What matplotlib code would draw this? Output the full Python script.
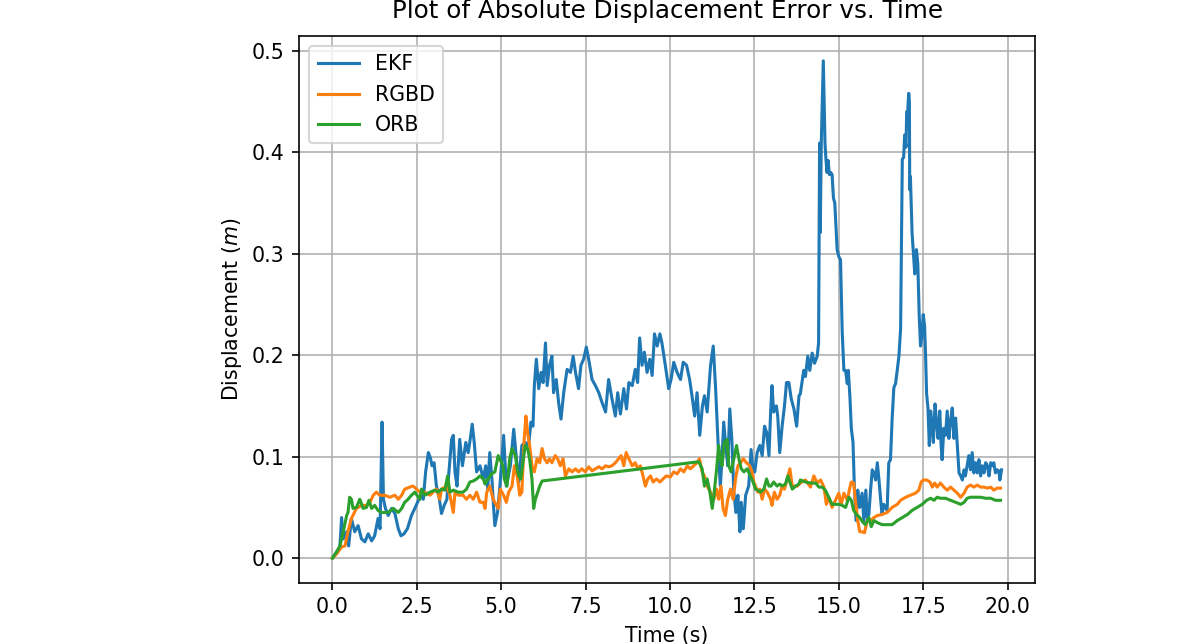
import matplotlib
matplotlib.use("Agg")
import matplotlib.pyplot as plt

# ---- data ----
ekf_t = [0, 0.12, 0.22, 0.27, 0.32, 0.42, 0.48, 0.56, 0.66, 0.76, 0.86, 0.96, 1.06, 1.16, 1.25, 1.35, 1.41, 1.47, 1.51, 1.57,
         1.65, 1.75, 1.85, 1.95, 2.03, 2.12, 2.22, 2.34, 2.44, 2.52, 2.62, 2.69, 2.76, 2.84, 2.90, 2.95, 3.01, 3.08, 3.15, 3.23,
         3.31, 3.39, 3.45, 3.53, 3.58, 3.63, 3.69, 3.77, 3.85, 3.95, 4.02, 4.08, 4.14, 4.20, 4.27, 4.37, 4.47, 4.54, 4.60, 4.66,
         4.73, 4.77, 4.81, 4.89, 4.96, 5.07, 5.15, 5.27, 5.37, 5.45, 5.52, 5.61, 5.71, 5.81, 5.88, 5.94, 5.98, 6.04, 6.11, 6.18,
         6.24, 6.31, 6.36, 6.43, 6.50, 6.55, 6.63, 6.70, 6.77, 6.85, 6.95, 7.05, 7.13, 7.20, 7.29, 7.36, 7.44, 7.52, 7.59, 7.69,
         7.79, 7.89, 7.99, 8.09, 8.18, 8.28, 8.38, 8.45, 8.53, 8.63, 8.71, 8.78, 8.88, 8.97, 9.04, 9.10, 9.17, 9.24, 9.32, 9.40,
         9.47, 9.54, 9.62, 9.70, 9.76, 9.86, 9.96, 10.03, 10.11, 10.21, 10.31, 10.39, 10.49, 10.58, 10.65, 10.73, 10.80, 10.88,
         10.96, 11.02, 11.10, 11.20, 11.28, 11.35, 11.40, 11.44, 11.49, 11.54, 11.59, 11.65, 11.71, 11.77, 11.83, 11.89, 11.95,
         12.01, 12.07, 12.11, 12.17, 12.24, 12.33, 12.40, 12.46, 12.51, 12.58, 12.66, 12.73, 12.80, 12.86, 12.93, 12.98, 13.02,
         13.07, 13.15, 13.19, 13.25, 13.32, 13.39, 13.45, 13.52, 13.59, 13.67, 13.75, 13.82, 13.86, 13.96, 14.01, 14.08, 14.14,
         14.21, 14.28, 14.36, 14.40, 14.43, 14.45, 14.48, 14.54, 14.59, 14.62, 14.65, 14.68, 14.72, 14.76, 14.80, 14.84, 14.88,
         14.91, 14.95, 15.00, 15.05, 15.10, 15.15, 15.20, 15.25, 15.28, 15.33, 15.37, 15.42, 15.46, 15.51, 15.56, 15.62, 15.69,
         15.74, 15.80, 15.84, 15.89, 15.94, 15.99, 16.04, 16.09, 16.14, 16.19, 16.24, 16.28, 16.33, 16.38, 16.43, 16.48, 16.53,
         16.58, 16.63, 16.68, 16.73, 16.78, 16.83, 16.88, 16.92, 16.95, 16.99, 17.01, 17.04, 17.07, 17.09, 17.10, 17.12, 17.17,
         17.21, 17.25, 17.27, 17.30, 17.34, 17.38, 17.42, 17.46, 17.50, 17.54, 17.57, 17.60, 17.64, 17.68, 17.72, 17.76, 17.80,
         17.85, 17.90, 17.94, 17.99, 18.03, 18.06, 18.11, 18.16, 18.21, 18.26, 18.31, 18.36, 18.41, 18.46, 18.51, 18.56, 18.61,
         18.66, 18.71, 18.75, 18.80, 18.85, 18.90, 18.95, 19.00, 19.05, 19.10, 19.15, 19.20, 19.25, 19.30, 19.35, 19.40, 19.45,
         19.50, 19.55, 19.59, 19.64, 19.69, 19.74, 19.77, 19.82]
ekf_v = [0, 0.006, 0.011, 0.040, 0.019, 0.026, 0.012, 0.039, 0.026, 0.032, 0.019, 0.016, 0.024, 0.017, 0.022, 0.039, 0.029, 0.134, 0.058, 0.049,
         0.042, 0.049, 0.044, 0.029, 0.022, 0.024, 0.029, 0.042, 0.049, 0.055, 0.062, 0.058, 0.085, 0.104, 0.099, 0.091, 0.094, 0.071, 0.062, 0.044,
         0.052, 0.058, 0.085, 0.117, 0.121, 0.085, 0.071, 0.117, 0.091, 0.114, 0.104, 0.117, 0.132, 0.114, 0.085, 0.091, 0.078, 0.091, 0.068, 0.104,
         0.075, 0.052, 0.032, 0.045, 0.071, 0.121, 0.071, 0.091, 0.127, 0.098, 0.075, 0.111, 0.114, 0.111, 0.134, 0.130, 0.170, 0.196, 0.167, 0.183,
         0.173, 0.212, 0.170, 0.190, 0.199, 0.163, 0.176, 0.153, 0.137, 0.163, 0.186, 0.183, 0.199, 0.183, 0.167, 0.190, 0.196, 0.208, 0.196, 0.176,
         0.170, 0.163, 0.153, 0.144, 0.176, 0.157, 0.140, 0.163, 0.142, 0.167, 0.147, 0.173, 0.170, 0.186, 0.173, 0.217, 0.190, 0.203, 0.183, 0.196,
         0.180, 0.221, 0.209, 0.221, 0.212, 0.190, 0.167, 0.176, 0.193, 0.183, 0.176, 0.193, 0.190, 0.176, 0.160, 0.140, 0.163, 0.121,
         0.150, 0.160, 0.144, 0.190, 0.209, 0.167, 0.130, 0.101, 0.071, 0.098, 0.134, 0.111, 0.091, 0.147, 0.117, 0.065, 0.045,
         0.062, 0.026, 0.055, 0.029, 0.062, 0.071, 0.107, 0.085, 0.085, 0.104, 0.111, 0.101, 0.130, 0.124, 0.101, 0.144, 0.170,
         0.144, 0.150, 0.140, 0.104, 0.130, 0.150, 0.173, 0.173, 0.157, 0.147, 0.130, 0.160, 0.162, 0.185, 0.179, 0.199, 0.185,
         0.202, 0.192, 0.199, 0.212, 0.409, 0.321, 0.409, 0.490, 0.409, 0.392, 0.380, 0.392, 0.378, 0.380, 0.378, 0.355, 0.350,
         0.330, 0.304, 0.297, 0.294, 0.223, 0.185, 0.185, 0.172, 0.185, 0.158, 0.128, 0.114, 0.070, 0.037, 0.067, 0.050, 0.064,
         0.037, 0.067, 0.040, 0.043, 0.067, 0.087, 0.084, 0.077, 0.094, 0.077, 0.057, 0.043, 0.053, 0.050, 0.047, 0.094, 0.097,
         0.138, 0.168, 0.172, 0.185, 0.199, 0.226, 0.393, 0.395, 0.417, 0.405, 0.440, 0.440, 0.458, 0.450, 0.363, 0.376, 0.320,
         0.300, 0.280, 0.300, 0.304, 0.290, 0.240, 0.209, 0.219, 0.240, 0.229, 0.199, 0.162, 0.148, 0.111, 0.145, 0.131, 0.114,
         0.152, 0.131, 0.118, 0.145, 0.111, 0.097, 0.128, 0.121, 0.145, 0.118, 0.135, 0.148, 0.118, 0.138, 0.111, 0.084, 0.081,
         0.077, 0.087, 0.081, 0.091, 0.101, 0.087, 0.104, 0.084, 0.094, 0.084, 0.097, 0.081, 0.091, 0.084, 0.094, 0.091, 0.081,
         0.094, 0.091, 0.094, 0.084, 0.087, 0.086, 0.077, 0.087]

rgbd_t = [0, 0.12, 0.27, 0.37, 0.46, 0.56, 0.71, 0.86, 1.01, 1.11, 1.21, 1.30, 1.40, 1.55, 1.70, 1.85, 1.95, 2.05, 2.14, 2.29,
          2.39, 2.49, 2.59, 2.74, 2.89, 2.98, 3.08, 3.18, 3.23, 3.38, 3.48, 3.58, 3.63, 3.73, 3.87, 3.97, 4.07, 4.17, 4.27, 4.37,
          4.47, 4.52, 4.57, 4.66, 4.76, 4.86, 4.91, 4.97, 5.07, 5.15, 5.22, 5.32, 5.39, 5.47, 5.55, 5.61, 5.68, 5.73, 5.78, 5.84,
          5.91, 5.98, 6.06, 6.14, 6.21, 6.28, 6.36, 6.43, 6.50, 6.60, 6.67, 6.75, 6.83, 6.90, 7.00, 7.10, 7.20, 7.29, 7.39, 7.49,
          7.59, 7.69, 7.79, 7.89, 7.99, 8.09, 8.18, 8.28, 8.38, 8.48, 8.55, 8.63, 8.70, 8.78, 8.88, 8.97, 9.04, 9.12, 9.20, 9.27,
          9.34, 9.42, 9.50, 9.60, 9.70, 9.79, 9.89, 10.01, 10.11, 10.21, 10.31, 10.41, 10.51, 10.60, 10.70, 10.80, 10.87, 10.95,
          11.02, 11.10, 11.20, 11.30, 11.38, 11.44, 11.51, 11.57, 11.64, 11.71, 11.79, 11.87, 11.94, 12.01, 12.09, 12.17, 12.26,
          12.36, 12.43, 12.48, 12.53, 12.60, 12.66, 12.73, 12.80, 12.88, 12.98, 13.02, 13.09, 13.17, 13.25, 13.32, 13.39, 13.47,
          13.55, 13.62, 13.69, 13.77, 13.86, 14.01, 14.16, 14.26, 14.36, 14.46, 14.56, 14.63, 14.70, 14.80, 14.90, 15.00, 15.07,
          15.15, 15.25, 15.33, 15.37, 15.44, 15.49, 15.56, 15.62, 15.69, 15.76, 15.84, 15.94, 16.04, 16.14, 16.28, 16.43, 16.58,
          16.73, 16.83, 16.98, 17.12, 17.27, 17.37, 17.44, 17.50, 17.60, 17.70, 17.77, 17.84, 17.91, 18.01, 18.11, 18.21, 18.31,
          18.41, 18.51, 18.61, 18.71, 18.80, 18.90, 19.00, 19.10, 19.20, 19.30, 19.40, 19.50, 19.59, 19.69, 19.79]
rgbd_v = [0, 0.004, 0.011, 0.012, 0.026, 0.039, 0.049, 0.052, 0.052, 0.055, 0.062, 0.065, 0.062, 0.062, 0.060, 0.062, 0.058, 0.062, 0.068, 0.070,
          0.071, 0.068, 0.065, 0.065, 0.062, 0.065, 0.068, 0.058, 0.068, 0.071, 0.062, 0.045, 0.065, 0.062, 0.062, 0.058, 0.062, 0.058, 0.065, 0.055,
          0.055, 0.049, 0.065, 0.071, 0.058, 0.052, 0.049, 0.068, 0.062, 0.055, 0.065, 0.071, 0.091, 0.081, 0.062, 0.065, 0.117, 0.140, 0.124, 0.111,
          0.091, 0.085, 0.098, 0.094, 0.108, 0.098, 0.094, 0.098, 0.094, 0.101, 0.098, 0.091, 0.098, 0.081, 0.088, 0.085, 0.088, 0.085, 0.088, 0.085,
          0.090, 0.086, 0.088, 0.090, 0.088, 0.091, 0.090, 0.091, 0.094, 0.098, 0.101, 0.091, 0.104, 0.098, 0.091, 0.094, 0.088, 0.091, 0.081, 0.071,
          0.078, 0.081, 0.075, 0.078, 0.075, 0.078, 0.081, 0.080, 0.085, 0.083, 0.088, 0.085, 0.091, 0.088, 0.091, 0.094, 0.098, 0.085,
          0.081, 0.071, 0.065, 0.058, 0.068, 0.058, 0.071, 0.049, 0.042, 0.058, 0.068, 0.058, 0.078, 0.091, 0.094, 0.098, 0.094,
          0.091, 0.085, 0.075, 0.071, 0.065, 0.068, 0.058, 0.068, 0.065, 0.058, 0.052, 0.065, 0.058, 0.062, 0.071, 0.068, 0.078,
          0.088, 0.071, 0.071, 0.071, 0.074, 0.077, 0.070, 0.081, 0.074, 0.077, 0.070, 0.053, 0.060, 0.050, 0.057, 0.064, 0.053,
          0.064, 0.057, 0.070, 0.075, 0.074, 0.057, 0.037, 0.026, 0.026, 0.025, 0.037, 0.037, 0.040, 0.042, 0.043, 0.045, 0.050,
          0.053, 0.057, 0.060, 0.062, 0.064, 0.067, 0.075, 0.077, 0.077, 0.075, 0.070, 0.074, 0.070, 0.074, 0.070, 0.067, 0.070,
          0.067, 0.064, 0.060, 0.064, 0.070, 0.072, 0.070, 0.072, 0.070, 0.070, 0.069, 0.070, 0.067, 0.069, 0.069]

orb_t = [0, 0.12, 0.22, 0.32, 0.42, 0.46, 0.51, 0.56, 0.61, 0.71, 0.81, 0.91, 1.01, 1.08, 1.16, 1.25, 1.35, 1.45, 1.55, 1.65,
         1.80, 1.95, 2.05, 2.14, 2.24, 2.34, 2.44, 2.59, 2.64, 2.74, 2.89, 3.03, 3.13, 3.23, 3.33, 3.41, 3.48, 3.58, 3.73, 3.87,
         3.97, 4.07, 4.17, 4.27, 4.37, 4.47, 4.52, 4.61, 4.71, 4.81, 4.91, 5.05, 5.09, 5.17, 5.25, 5.32, 5.42, 5.47, 5.52, 5.58,
         5.64, 5.71, 5.78, 5.84, 5.91, 5.96, 6.01, 6.08, 6.14, 6.21, 10.85, 10.95, 11.02, 11.10, 11.18, 11.25, 11.30, 11.38, 11.44,
         11.49, 11.54, 11.61, 11.69, 11.74, 11.81, 11.89, 11.97, 12.04, 12.11, 12.19, 12.28, 12.38, 12.46, 12.53, 12.60, 12.68,
         12.78, 12.86, 12.93, 12.99, 13.07, 13.17, 13.25, 13.32, 13.42, 13.49, 13.55, 13.62, 13.72, 13.82, 13.86, 14.01, 14.16,
         14.31, 14.41, 14.51, 14.60, 14.70, 14.80, 14.90, 15.00, 15.10, 15.20, 15.30, 15.37, 15.44, 15.52, 15.62, 15.72, 15.79,
         15.89, 15.96, 16.04, 16.14, 16.28, 16.43, 16.58, 16.73, 16.88, 17.03, 17.17, 17.32, 17.47, 17.60, 17.72, 17.82, 17.91,
         18.01, 18.16, 18.31, 18.46, 18.61, 18.71, 18.80, 18.90, 19.05, 19.20, 19.35, 19.50, 19.64, 19.79]
orb_v = [0, 0.006, 0.012, 0.026, 0.042, 0.045, 0.060, 0.058, 0.049, 0.050, 0.058, 0.049, 0.050, 0.057, 0.049, 0.052, 0.047, 0.045, 0.045, 0.045,
         0.049, 0.045, 0.049, 0.055, 0.058, 0.062, 0.065, 0.058, 0.068, 0.062, 0.065, 0.067, 0.065, 0.068, 0.067, 0.081, 0.065, 0.067, 0.065, 0.065,
         0.068, 0.075, 0.076, 0.078, 0.081, 0.078, 0.073, 0.078, 0.083, 0.085, 0.101, 0.091, 0.078, 0.071, 0.098, 0.108, 0.101, 0.088, 0.081, 0.078,
         0.094, 0.111, 0.108, 0.098, 0.078, 0.049, 0.058, 0.065, 0.071, 0.076, 0.095, 0.088, 0.071, 0.078, 0.065, 0.049, 0.062, 0.088, 0.111,
         0.098, 0.091, 0.114, 0.117, 0.091, 0.085, 0.098, 0.111, 0.098, 0.088, 0.085, 0.088, 0.081, 0.075, 0.068, 0.067, 0.065,
         0.068, 0.078, 0.071, 0.071, 0.075, 0.071, 0.073, 0.071, 0.073, 0.081, 0.075, 0.068, 0.071, 0.073, 0.077, 0.075, 0.074,
         0.074, 0.070, 0.070, 0.067, 0.060, 0.053, 0.053, 0.053, 0.052, 0.050, 0.060, 0.057, 0.047, 0.043, 0.040, 0.035, 0.033,
         0.040, 0.031, 0.037, 0.035, 0.033, 0.033, 0.033, 0.037, 0.040, 0.043, 0.047, 0.050, 0.053, 0.057, 0.059, 0.057, 0.060,
         0.059, 0.059, 0.057, 0.055, 0.053, 0.055, 0.059, 0.060, 0.060, 0.060, 0.059, 0.059, 0.057, 0.057]

labels = ["EKF", "RGBD", "ORB"]
title = "Plot of Absolute Displacement Error vs. Time"
xlabel = "Time (s)"
ylabel = "Displacement ($m$)"

# ---- figure ----
DPI = 148
fig = plt.figure(figsize=(1200 / DPI, 644 / DPI), dpi=DPI)
ax = fig.add_axes([299 / 1200, 1 - 583 / 644, 736 / 1200, 547 / 644])

ax.plot(ekf_t, ekf_v, color="#1f77b4", label=labels[0])
ax.plot(rgbd_t, rgbd_v, color="#ff7f0e", label=labels[1])
ax.plot(orb_t, orb_v, color="#2ca02c", label=labels[2])

ax.set_title(title, pad=8.6)
ax.set_xlabel(xlabel)
ax.set_ylabel(ylabel)
ax.grid(True)
ax.legend(loc="upper left")

fig.savefig("out.png", dpi=DPI)
